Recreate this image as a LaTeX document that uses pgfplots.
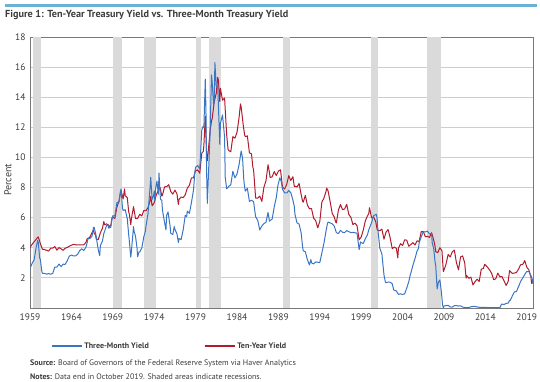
\documentclass[border=0pt]{standalone}
\usepackage{pgfplots}
\pgfplotsset{compat=1.18}
\usepackage{fontspec}
\setmainfont{PT Sans}
\definecolor{tbill}{RGB}{58,117,196}
\definecolor{tnote}{RGB}{176,28,46}
\definecolor{recess}{RGB}{218,218,218}
\definecolor{gridc}{RGB}{205,205,205}
\definecolor{axisc}{RGB}{120,120,120}
\definecolor{topbar}{RGB}{107,178,214}
\definecolor{txt}{RGB}{60,60,60}
\begin{document}
\begin{tikzpicture}
\useasboundingbox (0,0) rectangle (540pt,381pt);
\fill[topbar] (5pt,374pt) rectangle (537pt,376.5pt);
\node[anchor=west, inner sep=0pt, font=\bfseries\fontsize{10.2}{12}\selectfont, text=txt] at (5pt,366pt) {Figure 1: Ten-Year Treasury Yield vs. Three-Month Treasury Yield};
\node[rotate=90, inner sep=0pt, font=\fontsize{10}{12}\selectfont, text=txt] at (8pt,201pt) {Percent};
\begin{axis}[
  at={(30pt,73pt)}, anchor=south west,
  scale only axis, width=503pt, height=271pt,
  xmin=1959, xmax=2019.75, ymin=0, ymax=18,
  xtick={1959,1964,...,2019},
  xticklabel style={/pgf/number format/1000 sep={}},
  ytick={2,4,...,18},
  major tick length=0pt,
  ymajorgrids, grid style={gridc, line width=0.8pt},
  axis line style={axisc, line width=0.9pt},
  tick label style={font=\fontsize{9.5}{11}\selectfont, text=txt},
  /pgf/number format/assume math mode=true,
  xticklabel style={yshift=-2pt},
  yticklabel style={xshift=-1pt},
  legend style={draw=none, fill=none, at={(0.0338,-0.14)}, anchor=west,
    legend columns=2, font=\bfseries\fontsize{8}{10}\selectfont, text=txt,
    nodes={inner sep=1.5pt},
    /tikz/every even column/.append style={column sep=53pt}},
  legend image code/.code={\draw[line width=2.6pt] (0pt,0pt) -- (30pt,0pt);},
]
% recessions (as drawn in the reference)
\addplot[fill=recess, draw=none, forget plot] coordinates {(1959.36,0)(1959.36,18)(1960.33,18)(1960.33,0)} -- cycle;
\addplot[fill=recess, draw=none, forget plot] coordinates {(1968.99,0)(1968.99,18)(1970.07,18)(1970.07,0)} -- cycle;
\addplot[fill=recess, draw=none, forget plot] coordinates {(1972.80,0)(1972.80,18)(1974.25,18)(1974.25,0)} -- cycle;
\addplot[fill=recess, draw=none, forget plot] coordinates {(1979.01,0)(1979.01,18)(1979.65,18)(1979.65,0)} -- cycle;
\addplot[fill=recess, draw=none, forget plot] coordinates {(1980.58,0)(1980.58,18)(1982.07,18)(1982.07,0)} -- cycle;
\addplot[fill=recess, draw=none, forget plot] coordinates {(1989.59,0)(1989.59,18)(1990.40,18)(1990.40,0)} -- cycle;
\addplot[fill=recess, draw=none, forget plot] coordinates {(2000.18,0)(2000.18,18)(2000.99,18)(2000.99,0)} -- cycle;
\addplot[fill=recess, draw=none, forget plot] coordinates {(2006.95,0)(2006.95,18)(2008.64,18)(2008.64,0)} -- cycle;
% ten-year
\addplot[tnote, line width=1pt, line join=round, forget plot] coordinates {
(1959.00,4.02)(1959.25,4.23)(1959.50,4.40)(1959.75,4.57)(1959.92,4.69)
(1960.00,4.72)(1960.25,4.28)(1960.50,3.90)(1960.75,3.89)(1960.92,3.84)
(1961.00,3.84)(1961.25,3.78)(1961.50,3.97)(1961.75,3.98)
(1962.00,4.08)(1962.25,3.84)(1962.50,4.01)(1962.75,3.93)
(1963.00,3.83)(1963.25,3.97)(1963.50,4.02)(1963.75,4.11)
(1964.00,4.17)(1964.25,4.23)(1964.50,4.20)(1964.75,4.19)
(1965.00,4.19)(1965.25,4.20)(1965.50,4.20)(1965.75,4.35)(1965.92,4.62)
(1966.00,4.61)(1966.25,4.72)(1966.50,5.02)(1966.67,5.18)(1966.75,4.96)(1966.92,4.84)
(1967.00,4.58)(1967.25,4.55)(1967.50,5.00)(1967.75,5.30)(1967.92,5.75)
(1968.00,5.53)(1968.25,5.59)(1968.50,5.50)(1968.58,5.42)(1968.75,5.46)(1968.92,6.03)
(1969.00,6.04)(1969.25,5.94)(1969.50,6.72)(1969.75,7.10)(1969.92,7.65)
(1970.00,7.79)(1970.25,7.24)(1970.42,7.91)(1970.50,7.46)(1970.75,7.33)(1970.92,6.39)
(1971.00,6.24)(1971.17,5.53)(1971.25,5.93)(1971.50,6.73)(1971.75,5.93)
(1972.00,5.95)(1972.25,6.23)(1972.50,6.11)(1972.75,6.48)
(1973.00,6.46)(1973.25,6.67)(1973.50,7.13)(1973.58,7.40)(1973.75,6.79)
(1974.00,6.99)(1974.25,7.51)(1974.50,7.81)(1974.67,8.04)(1974.75,7.90)(1974.92,7.43)
(1975.00,7.50)(1975.25,8.05)(1975.50,8.06)(1975.75,8.19)
(1976.00,7.74)(1976.25,7.56)(1976.50,7.83)(1976.75,7.58)(1976.92,6.87)
(1977.00,7.21)(1977.25,7.37)(1977.50,7.33)(1977.75,7.52)
(1978.00,7.96)(1978.25,8.15)(1978.50,8.64)(1978.75,8.64)(1978.92,9.01)
(1979.00,9.10)(1979.25,9.18)(1979.50,8.95)(1979.75,10.30)(1979.92,10.39)
(1980.00,10.80)(1980.17,12.75)(1980.33,10.18)(1980.42,9.78)(1980.50,10.25)(1980.75,11.75)(1980.92,12.43)
(1981.00,12.57)(1981.25,13.68)(1981.50,14.28)(1981.67,15.32)(1981.75,15.15)(1981.92,13.72)
(1982.00,14.59)(1982.25,13.80)(1982.50,13.95)(1982.75,11.52)(1982.92,10.54)
(1983.00,10.46)(1983.25,10.38)(1983.50,11.38)(1983.75,11.28)
(1984.00,11.67)(1984.25,12.65)(1984.42,13.56)(1984.50,13.36)(1984.75,12.16)(1984.92,11.50)
(1985.00,11.38)(1985.25,11.43)(1985.50,10.31)(1985.75,10.24)(1985.92,9.33)
(1986.00,9.19)(1986.25,7.30)(1986.50,7.30)(1986.75,7.43)
(1987.00,7.08)(1987.25,8.02)(1987.50,8.45)(1987.75,9.52)(1987.92,8.99)
(1988.00,8.67)(1988.25,8.72)(1988.50,9.06)(1988.75,8.80)
(1989.00,9.09)(1989.25,9.18)(1989.50,8.02)(1989.75,7.91)
(1990.00,8.21)(1990.25,8.79)(1990.50,8.47)(1990.75,8.72)(1990.92,8.08)
(1991.00,8.09)(1991.25,8.04)(1991.50,8.27)(1991.75,7.53)(1991.92,7.09)
(1992.00,7.03)(1992.25,7.48)(1992.50,6.84)(1992.75,6.59)
(1993.00,6.60)(1993.25,5.97)(1993.50,5.81)(1993.75,5.33)
(1994.00,5.75)(1994.25,7.04)(1994.50,7.30)(1994.75,7.74)(1994.83,7.96)
(1995.00,7.78)(1995.25,7.06)(1995.50,6.28)(1995.75,6.04)(1995.92,5.71)
(1996.00,5.65)(1996.25,6.51)(1996.50,6.87)(1996.75,6.53)
(1997.00,6.58)(1997.25,6.89)(1997.50,6.22)(1997.75,6.03)
(1998.00,5.54)(1998.25,5.64)(1998.50,5.46)(1998.75,4.53)
(1999.00,4.72)(1999.25,5.18)(1999.50,5.79)(1999.75,6.11)(1999.92,6.28)
(2000.00,6.66)(2000.25,5.99)(2000.50,6.05)(2000.75,5.74)(2000.92,5.24)
(2001.00,5.16)(2001.25,5.14)(2001.50,5.24)(2001.75,4.57)
(2002.00,5.04)(2002.25,5.21)(2002.50,4.65)(2002.75,3.94)
(2003.00,4.05)(2003.25,3.96)(2003.42,3.33)(2003.50,3.98)(2003.75,4.27)
(2004.00,4.15)(2004.25,4.53)(2004.50,4.50)(2004.75,4.10)
(2005.00,4.22)(2005.25,4.34)(2005.50,4.18)(2005.75,4.46)
(2006.00,4.42)(2006.25,5.07)(2006.50,5.09)(2006.75,4.73)
(2007.00,4.76)(2007.25,4.69)(2007.50,5.00)(2007.75,4.53)(2007.92,4.10)
(2008.00,3.74)(2008.25,3.68)(2008.50,4.01)(2008.75,3.81)(2008.92,2.42)
(2009.00,2.52)(2009.25,2.93)(2009.50,3.56)(2009.75,3.39)
(2010.00,3.73)(2010.25,3.85)(2010.50,3.01)(2010.75,2.54)
(2011.00,3.39)(2011.25,3.46)(2011.50,3.00)(2011.67,1.98)(2011.75,2.15)
(2012.00,1.97)(2012.25,2.05)(2012.50,1.53)(2012.75,1.75)
(2013.00,1.91)(2013.25,1.76)(2013.50,2.58)(2013.75,2.62)(2013.92,2.90)
(2014.00,2.86)(2014.25,2.71)(2014.50,2.54)(2014.75,2.30)
(2015.00,1.88)(2015.25,1.94)(2015.50,2.32)(2015.75,2.07)
(2016.00,2.09)(2016.25,1.81)(2016.50,1.50)(2016.75,1.76)(2016.92,2.49)
(2017.00,2.43)(2017.25,2.30)(2017.50,2.32)(2017.75,2.36)
(2018.00,2.58)(2018.25,2.87)(2018.50,2.89)(2018.75,3.15)
(2019.00,2.71)(2019.25,2.53)(2019.50,2.06)(2019.58,1.63)(2019.75,1.71)
};
% three-month
\addplot[tbill, line width=1pt, line join=round] coordinates {
(1959.00,2.62)(1959.25,2.96)(1959.50,3.20)(1959.75,4.04)(1959.92,4.49)
(1960.00,4.35)(1960.17,3.31)(1960.25,3.23)(1960.42,2.46)(1960.50,2.30)(1960.75,2.30)(1960.92,2.27)
(1961.00,2.24)(1961.25,2.29)(1961.50,2.24)(1961.75,2.30)(1961.92,2.60)
(1962.00,2.72)(1962.25,2.72)(1962.50,2.92)(1962.75,2.75)
(1963.00,2.91)(1963.25,2.90)(1963.50,3.14)(1963.75,3.45)
(1964.00,3.52)(1964.25,3.46)(1964.50,3.46)(1964.75,3.57)
(1965.00,3.81)(1965.25,3.93)(1965.50,3.82)(1965.75,4.03)(1965.92,4.38)
(1966.00,4.60)(1966.25,4.62)(1966.50,4.78)(1966.67,5.36)(1966.75,5.35)(1966.92,4.96)
(1967.00,4.72)(1967.25,3.85)(1967.42,3.48)(1967.50,4.15)(1967.75,4.45)(1967.92,4.96)
(1968.00,5.08)(1968.25,5.48)(1968.42,5.52)(1968.50,5.31)(1968.75,5.35)(1968.92,5.94)
(1969.00,6.13)(1969.25,6.11)(1969.50,7.00)(1969.75,7.04)(1969.92,7.72)
(1970.00,7.91)(1970.17,6.63)(1970.25,6.48)(1970.50,6.53)(1970.75,5.93)(1970.92,4.86)
(1971.00,4.44)(1971.17,3.38)(1971.25,3.78)(1971.50,5.40)(1971.58,5.08)(1971.75,4.74)(1971.92,4.01)
(1972.00,3.40)(1972.17,3.73)(1972.25,3.72)(1972.50,3.98)(1972.75,4.74)(1972.92,5.07)
(1973.00,5.41)(1973.25,6.26)(1973.50,8.01)(1973.58,8.67)(1973.75,7.22)(1973.92,7.45)
(1974.00,7.77)(1974.08,7.12)(1974.17,7.96)(1974.33,8.43)(1974.50,7.55)(1974.58,8.96)(1974.75,7.24)(1974.92,7.15)
(1975.00,6.49)(1975.25,5.69)(1975.42,5.19)(1975.50,6.16)(1975.67,6.38)(1975.75,6.08)(1975.92,5.44)
(1976.00,4.96)(1976.25,4.88)(1976.42,5.41)(1976.50,5.23)(1976.75,4.92)(1976.92,4.35)
(1977.00,4.62)(1977.25,4.54)(1977.50,5.19)(1977.75,6.16)(1977.92,6.07)
(1978.00,6.44)(1978.25,6.29)(1978.50,7.01)(1978.75,7.85)(1978.92,9.08)
(1979.00,9.35)(1979.25,9.46)(1979.50,9.24)(1979.75,11.84)(1979.92,12.07)
(1980.00,12.00)(1980.17,15.20)(1980.25,13.20)(1980.33,9.00)(1980.42,6.95)(1980.50,8.13)(1980.75,11.62)(1980.92,15.49)
(1981.00,15.02)(1981.17,13.48)(1981.25,13.73)(1981.33,16.30)(1981.50,14.73)(1981.67,14.70)(1981.75,13.54)(1981.92,10.86)
(1982.00,12.28)(1982.25,12.82)(1982.50,11.35)(1982.58,8.68)(1982.75,7.92)(1982.92,8.01)
(1983.00,8.08)(1983.25,8.19)(1983.50,9.08)(1983.75,8.64)
(1984.00,8.90)(1984.25,9.52)(1984.50,10.43)(1984.67,9.97)(1984.83,8.44)(1984.92,8.06)
(1985.00,7.76)(1985.25,7.95)(1985.50,7.08)(1985.75,7.16)
(1986.00,7.07)(1986.25,6.06)(1986.50,5.83)(1986.75,5.18)
(1987.00,5.45)(1987.25,5.61)(1987.50,5.69)(1987.75,6.35)(1987.92,5.77)
(1988.00,5.81)(1988.25,5.91)(1988.50,6.73)(1988.75,7.35)(1988.92,8.07)
(1989.00,8.27)(1989.17,8.65)(1989.33,8.43)(1989.50,7.88)(1989.75,7.65)
(1990.00,7.64)(1990.25,7.80)(1990.50,7.66)(1990.75,7.17)(1990.92,6.74)
(1991.00,6.22)(1991.25,5.65)(1991.50,5.58)(1991.75,4.98)(1991.92,4.07)
(1992.00,3.80)(1992.25,3.74)(1992.50,3.21)(1992.75,2.86)(1992.92,3.22)
(1993.00,3.00)(1993.25,2.93)(1993.50,3.06)(1993.75,3.04)
(1994.00,3.02)(1994.25,3.66)(1994.50,4.30)(1994.75,5.10)(1994.92,5.60)
(1995.00,5.71)(1995.25,5.65)(1995.50,5.59)(1995.75,5.44)
(1996.00,5.00)(1996.25,4.95)(1996.50,5.16)(1996.75,5.03)
(1997.00,5.01)(1997.25,5.14)(1997.50,5.07)(1997.75,5.01)
(1998.00,5.02)(1998.25,5.00)(1998.50,4.96)(1998.75,3.87)(1998.92,4.39)
(1999.00,4.34)(1999.25,4.29)(1999.50,4.60)(1999.75,4.86)(1999.92,5.20)
(2000.00,5.32)(2000.25,5.66)(2000.50,6.14)(2000.75,6.20)(2000.83,6.22)(2000.92,5.94)
(2001.00,5.29)(2001.25,3.97)(2001.50,3.59)(2001.75,2.20)(2001.92,1.72)
(2002.00,1.68)(2002.25,1.72)(2002.50,1.71)(2002.75,1.61)(2002.92,1.21)
(2003.00,1.18)(2003.25,1.13)(2003.50,0.90)(2003.75,0.94)
(2004.00,0.90)(2004.25,0.94)(2004.50,1.33)(2004.75,1.76)(2004.92,2.19)
(2005.00,2.33)(2005.25,2.84)(2005.50,3.29)(2005.75,3.79)(2005.92,3.97)
(2006.00,4.34)(2006.25,4.72)(2006.50,5.08)(2006.75,5.05)
(2007.00,5.11)(2007.25,4.91)(2007.50,4.96)(2007.58,4.32)(2007.75,3.97)(2007.92,3.07)
(2008.00,2.82)(2008.17,1.26)(2008.33,1.73)(2008.50,1.86)(2008.67,1.13)(2008.75,0.67)(2008.83,0.19)(2008.92,0.03)
(2009.00,0.13)(2009.25,0.16)(2009.50,0.18)(2009.75,0.07)
(2010.00,0.06)(2010.25,0.15)(2010.50,0.16)(2010.75,0.13)
(2011.00,0.15)(2011.25,0.06)(2011.50,0.04)(2011.75,0.02)
(2012.00,0.03)(2012.25,0.08)(2012.50,0.10)(2012.75,0.10)
(2013.00,0.07)(2013.25,0.05)(2013.50,0.04)(2013.75,0.05)
(2014.00,0.04)(2014.25,0.03)(2014.50,0.03)(2014.75,0.02)
(2015.00,0.03)(2015.25,0.02)(2015.50,0.03)(2015.75,0.02)(2015.92,0.23)
(2016.00,0.26)(2016.25,0.23)(2016.50,0.30)(2016.75,0.33)(2016.92,0.51)
(2017.00,0.51)(2017.25,0.80)(2017.50,1.07)(2017.75,1.09)(2017.92,1.32)
(2018.00,1.41)(2018.25,1.76)(2018.50,1.99)(2018.75,2.22)(2018.92,2.37)
(2019.00,2.42)(2019.25,2.43)(2019.50,2.15)(2019.67,1.89)(2019.75,1.65)
};
\addlegendentry{Three-Month Yield}
\addlegendimage{tnote}
\addlegendentry{Ten-Year Yield}
\end{axis}
\node[anchor=west, inner sep=0pt, font=\fontsize{8}{9}\selectfont, text=txt] at (30pt,18pt) {\textbf{Source:} Board of Governors of the Federal Reserve System via Haver Analytics};
\node[anchor=west, inner sep=0pt, font=\fontsize{8}{9}\selectfont, text=txt] at (30pt,4.5pt) {\textbf{Notes:} Data end in October 2019. Shaded areas indicate recessions.};
\end{tikzpicture}
\end{document}
